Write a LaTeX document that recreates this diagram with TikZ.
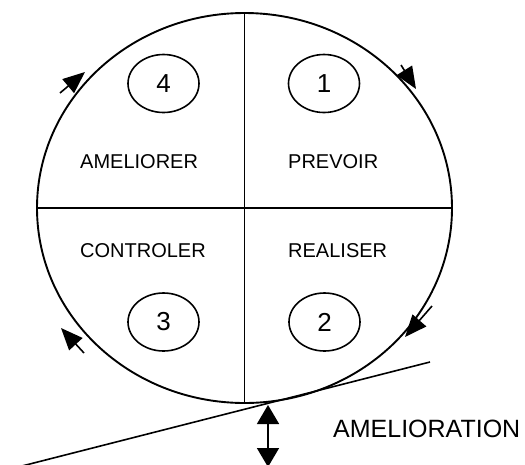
\documentclass[tikz,border=0pt]{standalone}
\usepackage{fontspec}
\setmainfont{Liberation Sans}
\usetikzlibrary{shapes.geometric,arrows.meta,positioning}

\begin{document}
\begin{tikzpicture}[
    x=1pt, y=-1pt,
    wheel/.style={draw, ellipse, line width=1.9pt, outer sep=0pt, minimum width=415pt, minimum height=390pt},
    stage/.style={draw, ellipse, line width=1.6pt, inner sep=0pt, minimum width=71pt, minimum height=58pt, font=\fontsize{26}{26}\selectfont},
    tag/.style={anchor=base west, inner sep=0pt, font=\fontsize{20}{20}\selectfont},
    divider/.style={line width=1.6pt},
    cyclearrow/.style={-{Triangle[length=22pt, width=18pt]}, line width=1.6pt},
    gainarrow/.style={{Triangle[length=19pt, width=22pt]}-{Triangle[length=19pt, width=22pt]}, line width=1.6pt}
]
    \useasboundingbox (0,0) rectangle (525,464);
    \clip (0,0) rectangle (525,464);

    \node[wheel] (pdca) at (244.5,208) {};
    \draw[divider] (pdca.north) -- (pdca.south);
    \draw[divider] (pdca.west) -- (pdca.east);

    \node[stage] (s4) at (163.5,83.5) {4};
    \node[stage] (s1) at (324,83.5) {1};
    \node[stage] (s3) at (163.5,322) {3};
    \node[stage] (s2) at (324.5,322) {2};

    \node[tag] (ameliorer) at (80,168) {AMELIORER};
    \node[tag] (prevoir) at (288,168) {PREVOIR};
    \node[tag] (controler) at (80,257) {CONTROLER};
    \node[tag] (realiser) at (288,257) {REALISER};

    % sens de rotation
    \coordinate (a1) at (60,93);   \coordinate (b1) at (85,72);
    \coordinate (a2) at (401,65);  \coordinate (b2) at (416,89);
    \coordinate (a3) at (432,306); \coordinate (b3) at (405,337);
    \coordinate (a4) at (84,353);  \coordinate (b4) at (61,328);
    \draw[cyclearrow] (a1) -- (b1);
    \draw[cyclearrow] (a2) -- (b2);
    \draw[cyclearrow] (a3) -- (b3);
    \draw[cyclearrow] (a4) -- (b4);

    % pente
    \coordinate (slope1) at (20,466.5);
    \coordinate (slope2) at (430,362);
    \draw[line width=1.6pt] (slope1) -- (slope2);

    \coordinate (top) at (268,405);
    \coordinate (bottom) at (268,467);
    \draw[gainarrow] (top) -- (bottom);
    \node[anchor=base west, inner sep=0pt, font=\fontsize{25}{25}\selectfont] (gain) at (333,437) {AMELIORATION};
\end{tikzpicture}
\end{document}
